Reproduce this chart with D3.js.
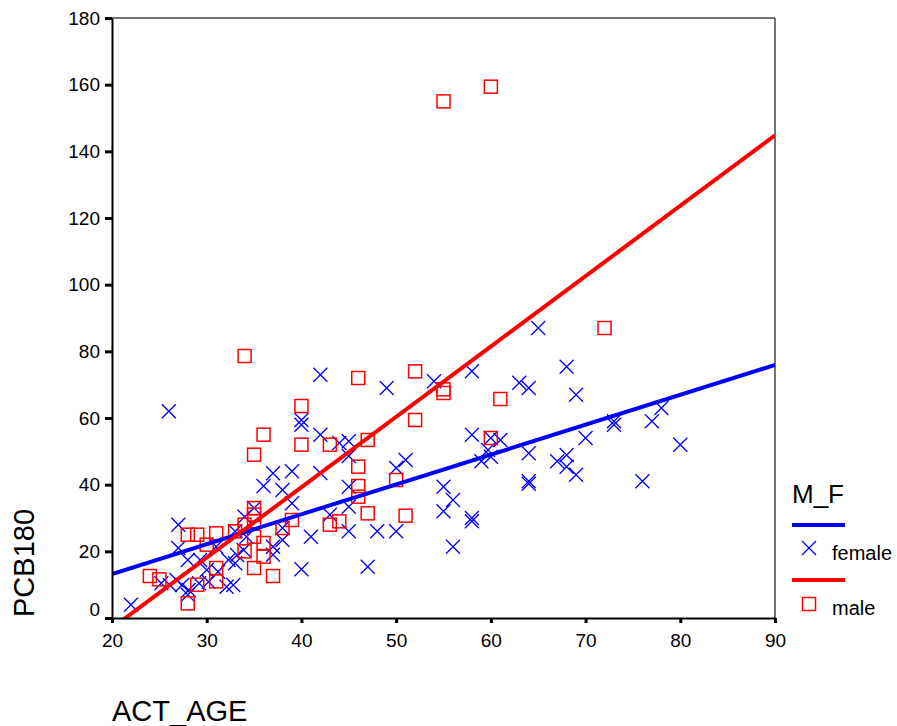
<!DOCTYPE html>
<html>
<head>
<meta charset="utf-8">
<script src="https://cdn.jsdelivr.net/npm/d3@7"></script>
<style>
body { margin: 0; background: #fff; }
text { font-family: "Liberation Sans", Arial, sans-serif; fill: #000; }
</style>
</head>
<body>
<svg id="main_svg"></svg>
<script>
const WIDTH = 897;
const HEIGHT = 726;

// female points (ACT_AGE, PCB180)
const femaleAge = [22, 25.2, 26.1, 26.8, 27.4, 28.1, 28, 28, 29.3, 29.2, 30, 30.2, 31.2, 31, 32.1, 32.8, 32.3, 33, 33.2, 33.9,
	34, 34.2, 33, 27, 27, 26, 35, 36, 37, 38, 39, 39, 38, 38, 37, 37, 40, 40, 40, 41,
	42, 42, 42, 43, 44, 45, 45, 45, 45, 45, 47, 48, 49, 50, 50, 51, 54, 55, 55, 56,
	56, 58, 58, 58, 58, 59, 60, 59.7, 60, 61, 63, 64, 64, 64, 64, 65, 67, 68, 68, 68,
	69, 69, 70, 73, 73, 76, 77, 78, 80];
const femalePcb = [4, 10.4, 9.9, 11.4, 9.9, 8.4, 7, 17.4, 17.4, 10.4, 14.4, 10.9, 13.9, 21.4, 9.4, 9.9, 17.4, 16.4, 18.9, 20.4,
	30.4, 24.4, 26, 28, 21, 62, 33, 39.6, 43.4, 38.4, 44, 34.4, 27, 23.4, 21.4, 19, 14.6, 59.4, 58, 24.4,
	73, 55, 43.5, 31, 52.5, 53, 48.6, 39.4, 33.4, 26, 15.4, 26, 69, 45, 26, 47.4, 71, 39.4, 32, 35.4,
	21.4, 74, 55, 30, 29, 47, 48.4, 50.4, 54, 53.4, 70.6, 69, 49.4, 41, 40.3, 87, 47, 48.9, 45.4, 75.4,
	67, 43, 54, 59, 58, 41, 59, 63, 52];

// male points (ACT_AGE, PCB180)
const maleAge = [24, 25, 28, 28, 29, 29, 30, 31, 31, 31, 33, 34, 34, 34, 35, 35, 35, 35, 35, 35,
	36, 36, 36, 37, 38, 39, 40, 40, 43, 43, 44, 46, 46, 46, 46, 47, 47, 50, 51, 52,
	52, 55, 55, 55, 60, 60, 61, 72];
const malePcb = [12.6, 11.6, 4.4, 25, 25, 10, 22, 25.4, 15, 11, 26, 28, 20, 78.6, 49, 33, 31, 29, 24.4, 15,
	55, 18.4, 22.5, 12.6, 27, 29.4, 63.6, 52, 52, 28, 29, 72, 45.4, 39.6, 36.4, 53.4, 31.4, 41.4, 30.7, 74,
	59.4, 68.6, 67.5, 155, 159.4, 54, 65.7, 87];

// fitted lines, as [age, pcb] end points
const femaleFit = [[20, 13.2], [90, 75.9]];
const maleFit = [[20, -3], [90, 144.8]];

const groups = ['female', 'male'];
const xTicks = [20, 30, 40, 50, 60, 70, 80, 90];
const yTicks = [0, 20, 40, 60, 80, 100, 120, 140, 160, 180];

const X0 = 112, X1 = 775, Y0 = 618, Y1 = 18;
const BLUE = '#0000ff', RED = '#ff0000';

const svg = d3.select('#main_svg').attr('width', WIDTH).attr('height', HEIGHT);

const x = d3.scaleLinear().domain([20, 90]).range([X0, X1]);
const y = d3.scaleLinear().domain([0, 180]).range([Y0, Y1]);

svg.append('clipPath').attr('id', 'plot_clip')
	.append('rect').attr('x', X0).attr('y', Y1).attr('width', X1 - X0).attr('height', Y0 - Y1);

// frame top / right
svg.append('line').attr('x1', X0).attr('x2', X1).attr('y1', Y1).attr('y2', Y1)
	.attr('stroke', '#444').attr('stroke-width', 1.5);
svg.append('line').attr('x1', X1).attr('x2', X1).attr('y1', Y1).attr('y2', Y0)
	.attr('stroke', '#444').attr('stroke-width', 1.5);

const plot = svg.append('g').attr('clip-path', 'url(#plot_clip)');

const xMark = 'M-7,-7L7,7M-7,7L7,-7';

const femaleData = femaleAge.map((a, i) => [a, femalePcb[i]]);
const maleData = maleAge.map((a, i) => [a, malePcb[i]]);

plot.selectAll('.female')
	.data(femaleData)
	.enter()
	.append('path')
	.attr('class', 'female')
	.attr('d', xMark)
	.attr('transform', d => `translate(${x(d[0])},${y(d[1])})`)
	.attr('fill', 'none')
	.attr('stroke', BLUE)
	.attr('stroke-width', 1.3);

plot.selectAll('.male')
	.data(maleData)
	.enter()
	.append('rect')
	.attr('class', 'male')
	.attr('x', d => x(d[0]) - 6.5)
	.attr('y', d => y(d[1]) - 6.5)
	.attr('width', 13)
	.attr('height', 13)
	.attr('fill', 'none')
	.attr('stroke', RED)
	.attr('stroke-width', 1.5);

const line = d3.line().x(d => x(d[0])).y(d => y(d[1]));

plot.append('path').datum(femaleFit).attr('d', line)
	.attr('stroke', BLUE).attr('stroke-width', 4).attr('fill', 'none');
plot.append('path').datum(maleFit).attr('d', line)
	.attr('stroke', RED).attr('stroke-width', 4).attr('fill', 'none');

// axes
const yAxis = svg.append('g')
	.attr('transform', `translate(${X0},0)`)
	.call(d3.axisLeft(y).tickValues(yTicks).tickSize(7).tickSizeOuter(0).tickPadding(5));
yAxis.select('.domain').attr('stroke', '#000').attr('stroke-width', 2);
yAxis.selectAll('.tick line').attr('stroke', '#000').attr('stroke-width', 3);
yAxis.selectAll('.tick text').attr('font-size', 19).attr('font-family', null);
yAxis.selectAll('.tick').filter(d => d === 0).select('text').attr('y', -9);

const xAxis = svg.append('g')
	.attr('transform', `translate(0,${Y0})`)
	.call(d3.axisBottom(x).tickValues(xTicks).tickSize(5).tickSizeOuter(0).tickPadding(10.5));
xAxis.select('.domain').attr('stroke', '#000').attr('stroke-width', 2);
xAxis.selectAll('.tick line').attr('stroke', '#000').attr('stroke-width', 3);
xAxis.selectAll('.tick text').attr('font-size', 19).attr('font-family', null);

// axis titles
svg.append('text')
	.attr('x', X0)
	.attr('y', 721)
	.attr('font-size', 29)
	.text('ACT_AGE');

svg.append('text')
	.attr('transform', `translate(34,617) rotate(-90)`)
	.attr('font-size', 29)
	.text('PCB180');

// legend
const legend = svg.append('g');
legend.append('text').attr('x', 792).attr('y', 503).attr('font-size', 26).text('M_F');

const legendRows = [
	{ name: groups[0], color: BLUE, lineY: 525, markY: 548, textY: 560 },
	{ name: groups[1], color: RED, lineY: 580, markY: 604, textY: 615 }
];

legendRows.forEach((r, i) => {
	legend.append('line').attr('x1', 792).attr('x2', 845).attr('y1', r.lineY).attr('y2', r.lineY)
		.attr('stroke', r.color).attr('stroke-width', 4);
	if (i === 0) {
		legend.append('path').attr('d', xMark).attr('transform', `translate(809,${r.markY})`)
			.attr('fill', 'none').attr('stroke', r.color).attr('stroke-width', 1.3);
	} else {
		legend.append('rect').attr('x', 809 - 6.5).attr('y', r.markY - 6.5).attr('width', 13).attr('height', 13)
			.attr('fill', 'none').attr('stroke', r.color).attr('stroke-width', 1.5);
	}
	legend.append('text').attr('x', 832).attr('y', r.textY).attr('font-size', 20).text(r.name);
});
</script>
</body>
</html>
